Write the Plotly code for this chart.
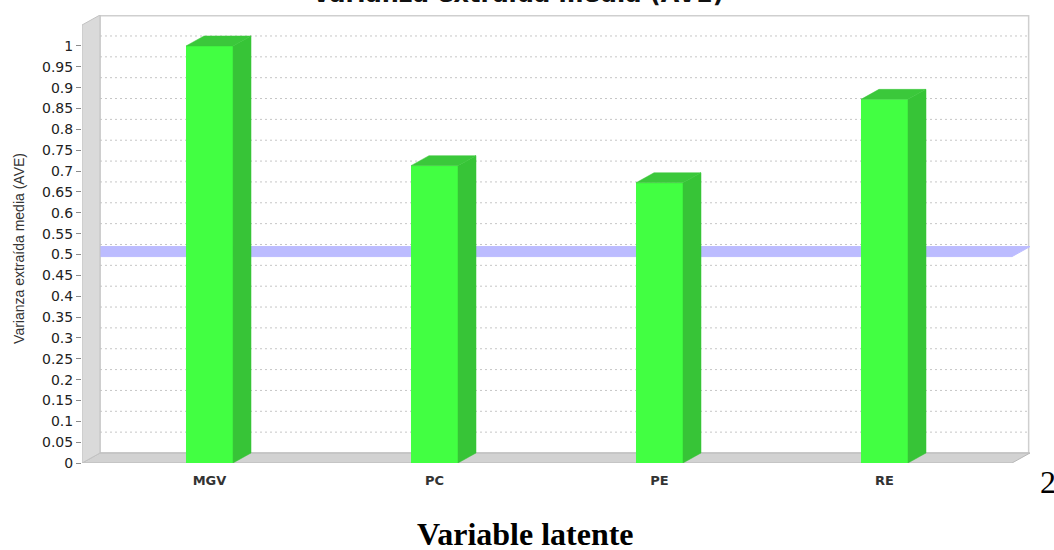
import plotly.graph_objects as go

# --- data -------------------------------------------------------------
categories = ["MGV", "PC", "PE", "RE"]
ave_values = [1.0, 0.713, 0.672, 0.872]
threshold = 0.5
y_tick_values = [0, 0.05, 0.1, 0.15, 0.2, 0.25, 0.3, 0.35, 0.4, 0.45, 0.5,
                 0.55, 0.6, 0.65, 0.7, 0.75, 0.8, 0.85, 0.9, 0.95, 1]
y_tick_labels = ["0", "0.05", "0.1", "0.15", "0.2", "0.25", "0.3", "0.35", "0.4",
                 "0.45", "0.5", "0.55", "0.6", "0.65", "0.7", "0.75", "0.8",
                 "0.85", "0.9", "0.95", "1"]

# --- pseudo-3D geometry (axis units) ----------------------------------
X_RANGE = [-0.5667, 3.6467]
Y_RANGE = [0, 1.0743]
DEPTH_X = 0.08      # horizontal depth offset of the back plane
DEPTH_Y = 0.024     # vertical depth offset of the back plane
BAR_W = 0.209

FRONT_L = X_RANGE[0]
BACK_L = X_RANGE[0] + DEPTH_X
BACK_R = X_RANGE[1]
FRONT_R = X_RANGE[1] - DEPTH_X
BACK_TOP = Y_RANGE[1]
FRONT_TOP = Y_RANGE[1] - DEPTH_Y

BAR_FRONT = "#42ff42"
BAR_SIDE = "#37c437"
BAR_TOP = "#3bc83b"
BAND = "#bcbcff"


def poly(points):
    return "M " + " L ".join(f"{x},{y}" for x, y in points) + " Z"


shapes = []
# back wall
shapes.append(dict(type="rect", xref="x", yref="y", layer="below",
                   x0=BACK_L, x1=BACK_R - 0.006, y0=DEPTH_Y, y1=BACK_TOP - 0.002,
                   fillcolor="white", line=dict(color="#cfcfcf", width=1.5)))
# dotted gridlines on the back wall
for v in y_tick_values[1:]:
    shapes.append(dict(type="line", xref="x", yref="y", layer="below",
                       x0=BACK_L, x1=BACK_R - 0.01, y0=v + DEPTH_Y, y1=v + DEPTH_Y,
                       line=dict(color="#c6c6c6", width=1, dash="2px,3px")))
# threshold plane at 0.5
shapes.append(dict(type="path", xref="x", yref="y", layer="below",
                   path=poly([(FRONT_L, threshold - 0.005), (BACK_L, threshold + DEPTH_Y - 0.005),
                              (BACK_R, threshold + DEPTH_Y - 0.005), (FRONT_R, threshold - 0.005)]),
                   fillcolor=BAND, line=dict(color=BAND, width=1)))
# floor
shapes.append(dict(type="path", xref="x", yref="y", layer="below",
                   path=poly([(FRONT_L, 0), (BACK_L, DEPTH_Y), (BACK_R, DEPTH_Y), (FRONT_R, 0)]),
                   fillcolor="#d2d2d2", line=dict(color="#b8b8b8", width=1)))
# left wall
shapes.append(dict(type="path", xref="x", yref="y", layer="below",
                   path=poly([(FRONT_L, 0), (FRONT_L, FRONT_TOP), (BACK_L, BACK_TOP),
                              (BACK_L, DEPTH_Y)]),
                   fillcolor="#dadada", line=dict(color="#c2c2c2", width=1)))

fig = go.Figure()

x_pos = list(range(len(categories)))

# front faces of the bars
fig.add_trace(go.Bar(x=x_pos, y=ave_values, width=BAR_W,
                     marker=dict(color=BAR_FRONT, line=dict(width=0)),
                     hoverinfo="skip", showlegend=False))

# side and top faces derived from the same values
side_x, side_y, top_x, top_y = [], [], [], []
for xc, v in zip(x_pos, ave_values):
    r = xc + BAR_W / 2
    l = xc - BAR_W / 2
    side_x += [r, r + DEPTH_X, r + DEPTH_X, r, r, None]
    side_y += [0, DEPTH_Y, v + DEPTH_Y, v, 0, None]
    top_x += [l, l + DEPTH_X, r + DEPTH_X, r, l, None]
    top_y += [v, v + DEPTH_Y, v + DEPTH_Y, v, v, None]

fig.add_trace(go.Scatter(x=side_x, y=side_y, mode="lines", fill="toself",
                         fillcolor=BAR_SIDE, line=dict(color=BAR_SIDE, width=0.5),
                         hoverinfo="skip", showlegend=False))
fig.add_trace(go.Scatter(x=top_x, y=top_y, mode="lines", fill="toself",
                         fillcolor=BAR_TOP, line=dict(color=BAR_TOP, width=0.5),
                         hoverinfo="skip", showlegend=False))

annotations = [
    dict(text="<b>Varianza extraída media (AVE)</b>", xref="paper", yref="paper",
         x=0.46, y=1.047, xanchor="center", yanchor="middle", showarrow=False,
         font=dict(family="DejaVu Sans", size=24, color="#111")),
    dict(text="Varianza extraída media (AVE)", xref="paper", yref="paper",
         x=-0.0665, y=0.48, textangle=-90, xanchor="center", yanchor="middle",
         showarrow=False, font=dict(family="Liberation Sans", size=14, color="#333")),
    dict(text="<b>Variable latente</b>", xref="paper", yref="paper",
         x=0.4678, y=-0.158, xanchor="center", yanchor="middle", showarrow=False,
         font=dict(family="Liberation Serif", size=32, color="#000")),
    dict(text="2", xref="paper", yref="paper",
         x=1.0084, y=-0.0413, xanchor="left", yanchor="middle", showarrow=False,
         font=dict(family="Liberation Serif", size=32, color="#000")),
]

fig.update_layout(
    width=1054, height=550,
    margin=dict(l=82, r=24, t=15, b=87),
    paper_bgcolor="white", plot_bgcolor="white",
    shapes=shapes, annotations=annotations,
    xaxis=dict(range=X_RANGE, showgrid=False, zeroline=False, showline=False,
               tickvals=x_pos, ticktext=[f"<b>{c}</b>" for c in categories],
               ticks="outside", ticklen=5, tickcolor="rgba(0,0,0,0)",
               tickfont=dict(family="DejaVu Sans", size=13, color="#333")),
    yaxis=dict(range=Y_RANGE, showgrid=False, zeroline=False, showline=False,
               tickvals=y_tick_values, ticktext=y_tick_labels, ticks="outside",
               ticklen=5, tickcolor="#8a8a8a",
               tickfont=dict(family="DejaVu Sans", size=14, color="#222")),
)

fig.write_html("out.html")
